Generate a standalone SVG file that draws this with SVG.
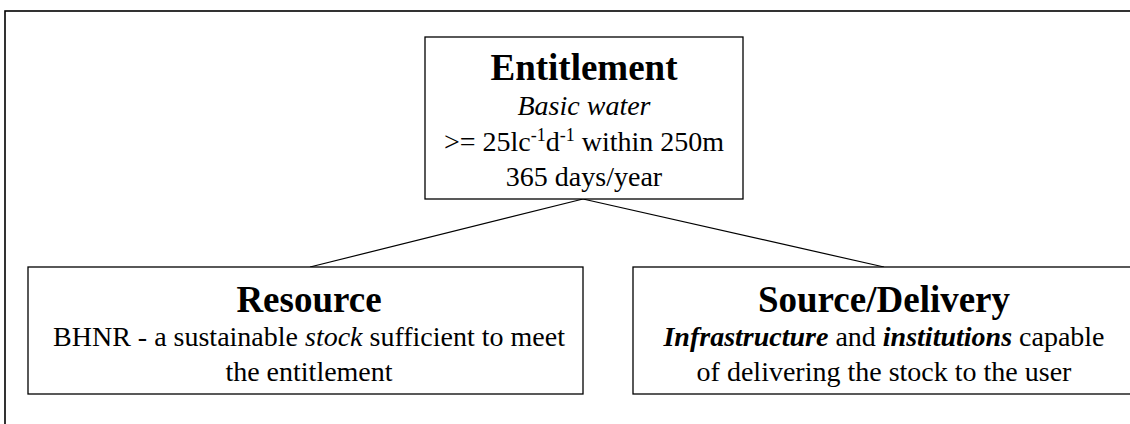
<svg xmlns="http://www.w3.org/2000/svg" width="1130" height="424" viewBox="0 0 1130 424">
  <style>
    .box { fill: #ffffff; stroke: #000000; stroke-width: 1.3; }
    .frame { fill: none; stroke: #000000; stroke-width: 1.6; }
    .link { stroke: #000000; stroke-width: 1.2; fill: none; }
    text { font-family: "Liberation Serif", "Times New Roman", serif; fill: #000000; text-anchor: middle; }
    .title { font-size: 37px; font-weight: bold; }
    .body { font-size: 28px; }
    .it { font-style: italic; }
    .bi { font-style: italic; font-weight: bold; }
    .sup { font-size: 18px; }
  </style>
  <rect width="1130" height="424" fill="#ffffff"/>
  <!-- outer frame, open to the right and bottom -->
  <rect class="frame" x="5" y="11" width="1140" height="430"/>

  <g id="connectors">
    <line class="link" x1="583" y1="199" x2="310" y2="267"/>
    <line class="link" x1="583" y1="199" x2="884" y2="267"/>
  </g>

  <g id="entitlement">
    <rect class="box" x="425" y="37" width="318" height="162"/>
    <text class="title" x="584" y="80">Entitlement</text>
    <text class="body it" x="584" y="115">Basic water</text>
    <text class="body" x="584" y="151">&gt;= 25lc<tspan class="sup" dy="-10">-1</tspan><tspan dy="10">d</tspan><tspan class="sup" dy="-10">-1</tspan><tspan dy="10"> within 250m</tspan></text>
    <text class="body" x="584" y="186">365 days/year</text>
  </g>

  <g id="resource">
    <rect class="box" x="28" y="267" width="555" height="127"/>
    <text class="title" x="309" y="312">Resource</text>
    <text class="body" x="309" y="346">BHNR - a sustainable <tspan class="it">stock</tspan> sufficient to meet</text>
    <text class="body" x="309" y="381">the entitlement</text>
  </g>

  <g id="source-delivery">
    <rect class="box" x="633" y="267" width="520" height="127"/>
    <text class="title" x="884" y="312">Source/Delivery</text>
    <text class="body" x="884" y="346"><tspan class="bi">Infrastructure</tspan> and <tspan class="bi">institutions</tspan> capable</text>
    <text class="body" x="884" y="381">of delivering the stock to the user</text>
  </g>
</svg>
